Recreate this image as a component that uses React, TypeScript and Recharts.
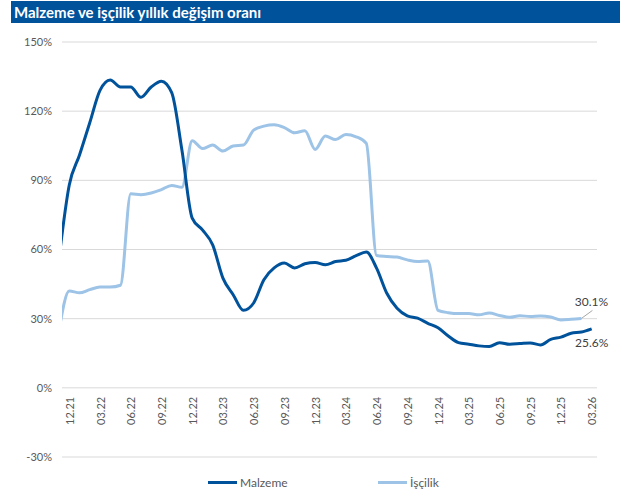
import { LineChart, Line, XAxis, YAxis, CartesianGrid, LabelList } from 'recharts';

// monthly points, 11.21 sits just left of the visible range and gets clipped
const months = [
  '11.21', '12.21',
  '01.22', '02.22', '03.22', '04.22', '05.22', '06.22', '07.22', '08.22', '09.22', '10.22', '11.22', '12.22',
  '01.23', '02.23', '03.23', '04.23', '05.23', '06.23', '07.23', '08.23', '09.23', '10.23', '11.23', '12.23',
  '01.24', '02.24', '03.24', '04.24', '05.24', '06.24', '07.24', '08.24', '09.24', '10.24', '11.24', '12.24',
  '01.25', '02.25', '03.25', '04.25', '05.25', '06.25', '07.25', '08.25', '09.25', '10.25', '11.25', '12.25',
  '01.26', '02.26', '03.26',
];

const malzeme = [
  56, 88, 101, 115, 129, 133.5, 130.5, 130.5, 126, 130.5, 133, 128, 103, 73.6,
  68.5, 62, 47.6, 40.4, 33.6, 36.8, 46.9, 52, 54.1, 52, 53.8, 54.4,
  53.4, 54.8, 55.3, 57.3, 58.9, 51.9, 41, 34.5, 31.2, 30.2, 28, 26.1,
  22.5, 19.6, 18.9, 18.2, 17.9, 19.6, 18.9, 19.2, 19.5, 18.6, 21, 22,
  23.7, 24.2, 25.6,
];

const iscilik = [
  25, 42, 41.2, 42.6, 43.7, 43.7, 44.5, 84.2, 83.8, 84.5, 86, 87.8, 87, 107.2,
  103.8, 105.3, 102.7, 104.9, 105.3, 111.8, 113.5, 114.1, 112.9, 110.6, 111.5, 103.4,
  109.2, 107.7, 109.9, 108.9, 106, 57.4, 57, 56.7, 55.5, 54.8, 55, 33.6,
  32.6, 32.2, 32.2, 31.7, 32.5, 31.4, 30.6, 31.3, 30.9, 31.2, 30.7, 29.4,
  29.7, 30.1, null,
];

const yTicks = [-30, 0, 30, 60, 90, 120, 150];
const xTicks = [0, 3, 6, 9, 12, 15, 18, 21, 24, 27, 30, 33, 36, 39, 42, 45, 48, 51];

const DARK = '#00529B';
const LIGHT = '#9DC3E6';
const FONT = 'Lato, "Open Sans", sans-serif';

const W = 626;
const H = 503;
const PLOT_TOP = 42;
const PLOT_BOTTOM = 457;
const Y_MIN = -30;
const Y_MAX = 150;
const ZERO_Y = PLOT_TOP + ((PLOT_BOTTOM - PLOT_TOP) * Y_MAX) / (Y_MAX - Y_MIN);

const rows = months.map((label, i) => ({
  m: i - 1,
  label,
  malzeme: malzeme[i],
  iscilik: iscilik[i],
}));

const lastIndex = (arr: (number | null)[]) => {
  for (let i = arr.length - 1; i >= 0; i--) if (arr[i] != null) return i;
  return -1;
};

// category labels sit on the 0% line, not at the bottom of the plot
function MonthTick(props: any) {
  const { x, payload } = props;
  return (
    <text
      transform={`translate(${x},${ZERO_Y + 9}) rotate(-90)`}
      textAnchor="end"
      dominantBaseline="central"
      fill="#595959"
      fontSize={11}
      fontFamily={FONT}
    >
      {months[payload.value + 1]}
    </text>
  );
}

function endLabel(last: number, dx: number, dy: number, leader: boolean) {
  return (props: any) => {
    const { index, value } = props;
    if (index !== last || value == null) return null;
    const x = props.x ?? props.viewBox?.x;
    const y = props.y ?? props.viewBox?.y;
    return (
      <g>
        {leader && (
          <line x1={x} y1={y} x2={x + 11} y2={y - 8} stroke="#A6A6A6" strokeWidth={1} />
        )}
        <text
          x={x + dx}
          y={y + dy}
          textAnchor="middle"
          dominantBaseline="central"
          fill="#404040"
          fontSize={12}
          fontFamily={FONT}
        >
          {`${value.toFixed(1)}%`}
        </text>
      </g>
    );
  };
}

function LegendItem({ left, color, text }: { left: number; color: string; text: string }) {
  return (
    <div style={{ position: 'absolute', left, top: 474, display: 'flex', alignItems: 'center', height: 16 }}>
      <span style={{ display: 'inline-block', width: 29, height: 3, background: color }} />
      <span style={{ marginLeft: 3, fontSize: 12, color: '#595959', fontFamily: FONT }}>{text}</span>
    </div>
  );
}

export default function App() {
  return (
    <div style={{ position: 'absolute', left: 0, top: 0, width: W, height: H, background: '#fff' }}>
      <LineChart
        width={W}
        height={H}
        data={rows}
        margin={{ top: PLOT_TOP, right: 29, left: 12, bottom: H - PLOT_BOTTOM - 30 }}
      >
        <CartesianGrid vertical={false} stroke="#D9D9D9" />
        <XAxis
          type="number"
          dataKey="m"
          domain={[-0.71, 51.52]}
          allowDataOverflow
          ticks={xTicks}
          interval={0}
          height={30}
          axisLine={false}
          tickLine={false}
          tick={<MonthTick />}
        />
        <YAxis
          domain={[Y_MIN, Y_MAX]}
          ticks={yTicks}
          width={50}
          axisLine={false}
          tickLine={false}
          tickSize={0}
          tickMargin={10}
          tickFormatter={(v) => `${v}%`}
          tick={{ fill: '#595959', fontSize: 11, fontFamily: FONT }}
        />
        <Line
          type="monotone"
          dataKey="iscilik"
          stroke={LIGHT}
          strokeWidth={3}
          dot={false}
          activeDot={false}
          isAnimationActive={false}
        >
          <LabelList dataKey="iscilik" content={endLabel(lastIndex(iscilik), 10, -17, true)} />
        </Line>
        <Line
          type="monotone"
          dataKey="malzeme"
          stroke={DARK}
          strokeWidth={3}
          dot={false}
          activeDot={false}
          isAnimationActive={false}
        >
          <LabelList dataKey="malzeme" content={endLabel(lastIndex(malzeme), 0, 14, false)} />
        </Line>
      </LineChart>

      <div
        style={{
          position: 'absolute',
          left: 11,
          top: 1,
          width: 609,
          height: 22,
          background: DARK,
          color: '#fff',
          fontFamily: FONT,
          fontWeight: 700,
          fontSize: 15,
          lineHeight: '22px',
          paddingLeft: 3,
          boxSizing: 'border-box',
          whiteSpace: 'nowrap',
        }}
      >
        Malzeme ve işçilik yıllık değişim oranı
      </div>

      <LegendItem left={208} color={DARK} text="Malzeme" />
      <LegendItem left={378} color={LIGHT} text="İşçilik" />
    </div>
  );
}
